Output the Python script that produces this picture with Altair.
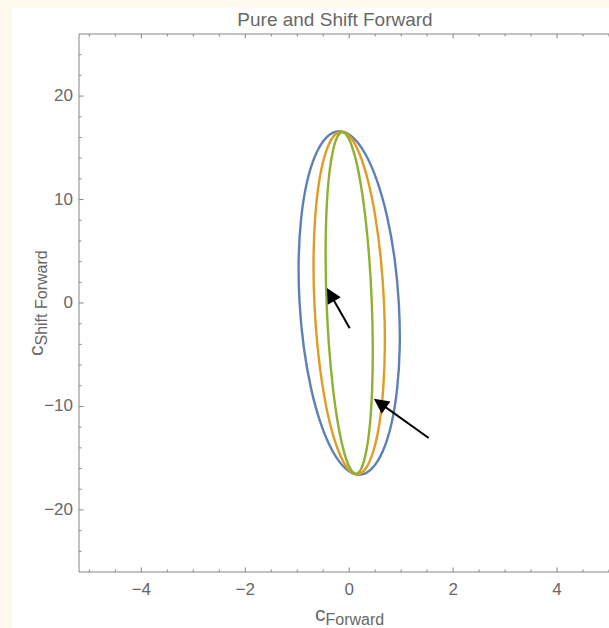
import math
import altair as alt
import pandas as pd

# ---------------- data ----------------
title_text = "Pure and Shift Forward"
series_names = ["Blue", "Orange", "Green"]
series_colors = ["#5E81B5", "#E19C24", "#8FB032"]

blue_x = [0.955, 0.873, 0.732, 0.541, 0.313, 0.064, -0.19, -0.431, -0.642, -0.810, -0.922, -0.972,
          -0.955, -0.873, -0.732, -0.541, -0.313, -0.064, 0.19, 0.431, 0.642, 0.810, 0.922, 0.972]
blue_y = [0, 4.30, 8.30, 11.74, 14.38, 16.03, 16.6, 16.03, 14.38, 11.74, 8.30, 4.30,
          0, -4.30, -8.30, -11.74, -14.38, -16.03, -16.6, -16.03, -14.38, -11.74, -8.30, -4.30]
orange_x = [0.670, 0.608, 0.505, 0.368, 0.205, 0.029, -0.150, -0.318, -0.465, -0.580, -0.655, -0.686,
            -0.670, -0.608, -0.505, -0.368, -0.205, -0.029, 0.150, 0.318, 0.465, 0.580, 0.655, 0.686]
orange_y = [0, 4.28, 8.28, 11.70, 14.33, 15.99, 16.55, 15.99, 14.33, 11.70, 8.28, 4.28,
            0, -4.28, -8.28, -11.70, -14.33, -15.99, -16.55, -15.99, -14.33, -11.70, -8.28, -4.28]
green_x = [0.435, 0.387, 0.312, 0.216, 0.105, -0.013, -0.130, -0.238, -0.330, -0.400, -0.442, -0.454,
           -0.435, -0.387, -0.312, -0.216, -0.105, 0.013, 0.130, 0.238, 0.330, 0.400, 0.442, 0.454]
green_y = [0, 4.27, 8.25, 11.67, 14.29, 15.94, 16.5, 15.94, 14.29, 11.67, 8.25, 4.27,
           0, -4.27, -8.25, -11.67, -14.29, -15.94, -16.5, -15.94, -14.29, -11.67, -8.25, -4.27]

arrow_tail_x = [0.01, 1.53]
arrow_tail_y = [-2.44, -13.05]
arrow_head_x = [-0.43, 0.475]
arrow_head_y = [1.45, -9.26]

x_tick_labels = [-4, -2, 0, 2, 4]
x_minor_ticks = [-5, -4.5, -3.5, -3, -2.5, -1.5, -1, -0.5, 0.5, 1, 1.5, 2.5, 3, 3.5, 4.5, 5]
y_tick_labels = [-20, -10, 0, 10, 20]
y_minor_ticks = [-24, -22, -18, -16, -14, -12, -8, -6, -4, -2, 2, 4, 6, 8, 12, 14, 16, 18, 22, 24]

x_label_main, x_label_sub = "c", "Forward"
y_label_main, y_label_sub = "c", "Shift Forward"

# ---------------- layout / style ----------------
W, H = 530, 538
XMIN, XMAX = -5.2, 5.0
YMIN, YMAX = -26.0, 26.0
PADL, PADT = 79, 34
PADB = 628 - PADT - H
FRAME = "#858585"
TEXT = "#686868"
FONT = "Liberation Sans"
BG = "#FEF9EC"

xscale = alt.Scale(domain=[XMIN, XMAX], nice=False, zero=False)
yscale = alt.Scale(domain=[YMIN, YMAX], nice=False, zero=False)


def X(f):
    return alt.X(f, type="quantitative", scale=xscale, axis=None)


def Y(f):
    return alt.Y(f, type="quantitative", scale=yscale, axis=None)


def fmt(v):
    return str(v).replace("-", "\u2212")


one = pd.DataFrame({"k": [0]})
layers = []

# white page area
layers.append(
    alt.Chart(one).mark_rect(color="white").encode(
        x=alt.value(12 - PADL), x2=alt.value(W + 30),
        y=alt.value(8 - PADT), y2=alt.value(H + 100)
    )
)

# frame (left, top, bottom)
layers.append(alt.Chart(one).mark_rule(color=FRAME, strokeWidth=1).encode(
    x=alt.value(0), y=alt.value(0), y2=alt.value(H)))
layers.append(alt.Chart(one).mark_rule(color=FRAME, strokeWidth=1).encode(
    x=alt.value(0), x2=alt.value(W + 5), y=alt.value(0)))
layers.append(alt.Chart(one).mark_rule(color=FRAME, strokeWidth=1).encode(
    x=alt.value(0), x2=alt.value(W + 5), y=alt.value(H)))

# frame ticks (inward)
for vals, ln in [(x_tick_labels, 4.5), (x_minor_ticks, 2.5)]:
    d = pd.DataFrame({"v": vals})
    layers.append(alt.Chart(d).mark_rule(color=FRAME, strokeWidth=1).encode(
        x=X("v"), y=alt.value(H), y2=alt.value(H - ln)))
    layers.append(alt.Chart(d).mark_rule(color=FRAME, strokeWidth=1).encode(
        x=X("v"), y=alt.value(0), y2=alt.value(ln)))
for vals, ln in [(y_tick_labels, 4.5), (y_minor_ticks, 2.5)]:
    d = pd.DataFrame({"v": vals})
    layers.append(alt.Chart(d).mark_rule(color=FRAME, strokeWidth=1).encode(
        y=Y("v"), x=alt.value(0), x2=alt.value(ln)))

# tick labels
xl = pd.DataFrame({"v": x_tick_labels, "t": [fmt(v) for v in x_tick_labels]})
layers.append(alt.Chart(xl).mark_text(
    font=FONT, fontSize=17, color=TEXT, align="center", baseline="alphabetic").encode(
    x=X("v"), y=alt.value(H + 23), text="t:N"))
yl = pd.DataFrame({"v": y_tick_labels, "t": [fmt(v) for v in y_tick_labels]})
layers.append(alt.Chart(yl).mark_text(
    font=FONT, fontSize=17, color=TEXT, align="right", baseline="middle").encode(
    y=Y("v"), x=alt.value(-6), text="t:N"))

# ellipses
for name, col, xs, ys in zip(series_names, series_colors,
                             [blue_x, orange_x, green_x], [blue_y, orange_y, green_y]):
    d = pd.DataFrame({"x": xs, "y": ys, "i": list(range(len(xs))), "s": name})
    layers.append(alt.Chart(d).mark_line(
        interpolate="cardinal-closed", strokeWidth=2.4, color=col).encode(
        x=X("x"), y=Y("y"), order="i:Q"))

# arrows
sx = W / (XMAX - XMIN)
sy = H / (YMAX - YMIN)
rows = []
for tx, ty, hx, hy in zip(arrow_tail_x, arrow_tail_y, arrow_head_x, arrow_head_y):
    dxp = (hx - tx) * sx
    dyp = (hy - ty) * sy
    L = math.hypot(dxp, dyp)
    ex = hx - dxp / L * 10 / sx
    ey = hy - dyp / L * 10 / sy
    ang = math.degrees(math.atan2(dxp, dyp)) % 360
    rows.append({"tx": tx, "ty": ty, "ex": ex, "ey": ey, "hx": hx, "hy": hy, "ang": ang})
arr = pd.DataFrame(rows)
layers.append(alt.Chart(arr).mark_rule(color="black", strokeWidth=2).encode(
    x=X("tx"), y=Y("ty"), x2="ex:Q", y2="ey:Q"))
layers.append(alt.Chart(arr).mark_point(
    shape="M0,0L-1,2L1,2Z", filled=True, size=225, color="black", opacity=1, strokeWidth=0).encode(
    x=X("hx"), y=Y("hy"), angle=alt.Angle("ang:Q", scale=None)))

# title
layers.append(alt.Chart(pd.DataFrame({"t": [title_text]})).mark_text(
    font=FONT, fontSize=19, color=TEXT, align="center", baseline="alphabetic").encode(
    text="t:N", x=alt.value(335 - PADL), y=alt.value(26 - PADT)))

# x axis label with subscript
layers.append(alt.Chart(pd.DataFrame({"t": [x_label_main]})).mark_text(
    font=FONT, fontSize=21, color=TEXT, align="left", baseline="alphabetic").encode(
    text="t:N", x=alt.value(315 - PADL), y=alt.value(621 - PADT)))
layers.append(alt.Chart(pd.DataFrame({"t": [x_label_sub]})).mark_text(
    font=FONT, fontSize=16, color=TEXT, align="left", baseline="alphabetic").encode(
    text="t:N", x=alt.value(325.5 - PADL), y=alt.value(625 - PADT)))

# y axis label with subscript (rotated)
layers.append(alt.Chart(pd.DataFrame({"t": [y_label_main]})).mark_text(
    font=FONT, fontSize=21, color=TEXT, align="left", baseline="alphabetic", angle=270).encode(
    text="t:N", x=alt.value(43 - PADL), y=alt.value(356 - PADT)))
layers.append(alt.Chart(pd.DataFrame({"t": [y_label_sub]})).mark_text(
    font=FONT, fontSize=16, color=TEXT, align="left", baseline="alphabetic", angle=270).encode(
    text="t:N", x=alt.value(47 - PADL), y=alt.value(345.5 - PADT)))

chart = alt.layer(*layers).properties(
    width=W, height=H,
    autosize=alt.AutoSizeParams(type="none"),
    padding={"left": PADL, "top": PADT, "right": 0, "bottom": PADB},
    background=BG,
).configure_view(stroke=None)

chart.save("out.html", embed_options={"renderer": "svg", "actions": False})
